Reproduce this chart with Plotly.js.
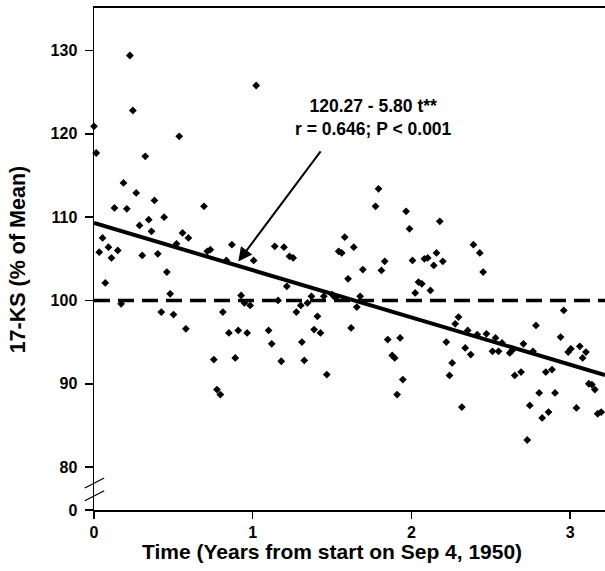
<!DOCTYPE html>
<html>
<head>
<meta charset="utf-8">
<script src="https://cdn.plot.ly/plotly-3.0.1.min.js"></script>
<style>html,body{margin:0;padding:0;background:#fff;}#chart{width:605px;height:571px;}</style>
</head>
<body>
<div id="chart"></div>
<script>
// Time in years from start, 17-KS as % of mean
const timeYears = [
  0.00,0.014,0.033,0.054,0.071,0.091,0.11,0.129,0.15,0.171,0.186,0.207,0.226,0.245,0.266,0.287,0.304,0.323,0.345,0.362,
  0.381,0.402,0.424,0.442,0.459,0.48,0.501,0.52,0.537,0.558,0.579,0.595,0.693,0.714,0.733,0.755,0.775,0.796,0.812,0.834,
  0.85,0.869,0.89,0.909,0.927,0.948,0.965,0.984,1.006,1.022,1.10,1.12,1.139,1.16,1.18,1.197,1.215,1.232,1.255,1.275,
  1.303,1.31,1.325,1.345,1.37,1.387,1.408,1.427,1.448,1.467,1.501,1.522,1.542,1.561,1.58,1.601,1.62,1.637,1.656,1.677,
  1.694,1.774,1.793,1.811,1.832,1.851,1.879,1.895,1.91,1.929,1.946,1.967,1.988,2.007,2.024,2.045,2.066,2.082,2.103,2.12,
  2.141,2.158,2.179,2.198,2.22,2.24,2.257,2.276,2.297,2.318,2.339,2.355,2.374,2.391,2.415,2.431,2.452,2.473,2.511,2.53,
  2.549,2.571,2.62,2.635,2.651,2.691,2.706,2.73,2.746,2.766,2.785,2.805,2.824,2.847,2.864,2.886,2.905,2.94,2.96,2.988,
  3.005,3.04,3.061,3.079,3.1,3.118,3.137,3.156,3.174,3.196
];
const ksPercent = [
  120.9,117.7,105.8,107.5,102.1,106.4,105.1,111.1,106.0,99.6,114.1,111.0,129.4,122.8,112.9,109.0,105.4,117.3,109.7,108.3,
  112.0,105.6,98.6,110.0,103.4,100.8,98.3,106.8,119.7,108.1,96.6,107.5,111.3,105.9,106.1,92.9,89.3,88.7,98.6,104.8,
  96.1,106.7,93.1,96.4,100.6,99.7,96.1,99.4,104.8,125.8,96.4,94.8,106.5,100.0,92.7,106.4,101.7,105.3,105.1,98.6,
  99.4,95.0,92.8,99.7,100.5,96.5,98.1,96.1,100.5,91.1,100.7,100.3,105.9,105.7,107.6,102.6,96.7,106.4,99.2,100.5,
  103.7,111.3,113.4,103.6,104.7,95.3,93.4,93.1,88.7,95.5,90.5,110.7,108.6,104.8,100.9,102.2,102.0,105.0,105.1,101.2,
  104.2,105.7,109.5,104.7,95.0,91.0,92.5,97.2,98.0,87.2,94.3,96.4,93.5,106.7,95.9,105.7,103.4,96.0,93.9,95.5,
  93.9,94.9,93.7,94.0,91.0,91.4,94.8,83.25,87.4,93.9,97.0,88.9,85.9,91.4,86.6,91.7,88.9,95.6,98.8,93.8,
  94.2,87.1,94.5,93.1,93.8,90.0,89.9,89.3,86.4,86.6
];
// Regression line endpoints (as drawn)
const fitX = [0, 3.22];
const fitY = [109.3, 91.05];
// Mean reference line
const refX = [0, 3.22];
const refY = [100, 100];
// Axis ticks (broken y axis: bottom tick is 0)
const xTickVals = [0, 1, 2, 3];
const xTickText = ['0', '1', '2', '3'];
const yTickVals = [74.85, 80, 90, 100, 110, 120, 130];
const yTickText = ['0', '80', '90', '100', '110', '120', '130'];
// Texts
const xTitle = 'Time (Years from start on Sep 4, 1950)';
const yTitle = '17-KS (% of Mean)';
const eqLine1 = '120.27 - 5.80 t**';
const eqLine2 = 'r = 0.646; P < 0.001';
const arrowTip = [0.909, 104.66];
const arrowTail = [1.435, 118.07];
const labelPos = [1.76, 121.9];

const FONT = 'Liberation Sans, Arial, Helvetica, sans-serif';

const traces = [
  {x: refX, y: refY, mode: 'lines', line: {color: '#000', width: 3.5, dash: '16px,8px'}, hoverinfo: 'skip', cliponaxis: false},
  {x: fitX, y: fitY, mode: 'lines', line: {color: '#000', width: 4}, hoverinfo: 'skip'},
  {x: timeYears, y: ksPercent, mode: 'markers', cliponaxis: false,
   marker: {symbol: 'diamond', size: 6, color: '#000'}}
];

const layout = {
  width: 605, height: 571,
  margin: {l: 94, r: 0, t: 8, b: 61},
  paper_bgcolor: '#fff', plot_bgcolor: '#fff',
  showlegend: false,
  font: {family: FONT, color: '#000'},
  xaxis: {
    range: [0, 3.22], tickvals: xTickVals, ticktext: xTickText,
    ticks: 'outside', ticklen: 7, tickwidth: 1.5, tickcolor: '#000',
    showline: true, linecolor: '#000', linewidth: 2, mirror: true,
    showgrid: false, zeroline: false,
    tickfont: {family: FONT, size: 16, weight: 'bold'}
  },
  yaxis: {
    range: [74.85, 135.1], tickvals: yTickVals, ticktext: yTickText,
    ticks: 'outside', ticklen: 8, tickwidth: 1.5, tickcolor: '#000',
    ticklabelstandoff: 4,
    showline: true, linecolor: '#000', linewidth: 1.5,
    showgrid: false, zeroline: false,
    tickfont: {family: FONT, size: 16, weight: 'bold'}
  },
  shapes: [
    {type: 'line', xref: 'paper', yref: 'y', x0: -0.018, x1: 0.02, y0: 77.5, y1: 78.7, line: {color: '#000', width: 1.2}},
    {type: 'line', xref: 'paper', yref: 'y', x0: -0.018, x1: 0.02, y0: 75.95, y1: 77.15, line: {color: '#000', width: 1.2}}
  ],
  annotations: [
    {x: arrowTip[0], y: arrowTip[1], ax: arrowTail[0], ay: arrowTail[1], axref: 'x', ayref: 'y', xref: 'x', yref: 'y',
     text: '', showarrow: true, arrowhead: 2, arrowsize: 1.4, arrowwidth: 2, arrowcolor: '#000', standoff: 0},
    {x: labelPos[0], y: labelPos[1], xref: 'x', yref: 'y', showarrow: false,
     text: eqLine1 + '<br>' + eqLine2, align: 'center',
     font: {family: FONT, size: 17.5, weight: 'bold', color: '#000'}},
    {x: 0.466, y: -0.082, xref: 'paper', yref: 'paper', xanchor: 'center', yanchor: 'middle', showarrow: false,
     text: xTitle, font: {family: FONT, size: 21, weight: 'bold', color: '#000'}},
    {x: -0.148, y: 0.5, xref: 'paper', yref: 'paper', xanchor: 'center', yanchor: 'middle', showarrow: false,
     textangle: -90, text: yTitle, font: {family: FONT, size: 21.5, weight: 'bold', color: '#000'}}
  ]
};

Plotly.newPlot('chart', traces, layout, {displayModeBar: false, staticPlot: true});
</script>
</body>
</html>
